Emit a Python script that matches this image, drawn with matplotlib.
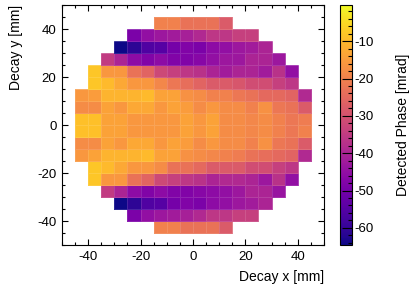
import numpy as np
import matplotlib
matplotlib.use("Agg")
import matplotlib.pyplot as plt
from matplotlib.ticker import MultipleLocator

plt.rcParams['font.family'] = ['Liberation Sans', 'DejaVu Sans']
plt.rcParams['axes.unicode_minus'] = False

# cell edges of the detector grid [mm]
x_edges = np.arange(-45, 46, 5)
y_edges = np.arange(-45, 46, 5)

n = np.nan
# detected phase [mrad], rows from y=42.5 (top) to y=-42.5 (bottom), cols x=-42.5..42.5
phase_rows = [
    [n, n, n, n, n, n, -20, -20, -23, -23, -23, -28, n, n, n, n, n, n],
    [n, n, n, n, -49, -45, -43, -42, -41, -39, -36, -36, -34, -34, n, n, n, n],
    [n, n, n, -65, -61, -56, -55, -50, -48, -49, -46, -45, -43, -42, -40, n, n, n],
    [n, n, -35, -40, -46, -48, -46, -48, -48, -47, -45, -43, -43, -40, -40, -43, n, n],
    [n, -8, -16, -16, -23, -26, -32, -34, -36, -37, -40, -42, -40, -40, -42, -37, -45, n],
    [n, -8, -10, -13, -16, -16, -19, -22, -24, -26, -28, -28, -29, -31, -31, -34, -36, n],
    [-16, -15, -11, -11, -11, -10, -14, -14, -17, -18, -20, -20, -22, -23, -25, -25, -26, -39],
    [-18, -18, -14, -16, -13, -13, -16, -14, -15, -18, -16, -18, -18, -20, -17, -22, -23, -28],
    [-9, -9, -14, -14, -16, -16, -16, -16, -14, -16, -14, -18, -18, -19, -18, -20, -22, -21],
    [-9, -9, -14, -14, -16, -16, -16, -16, -14, -16, -14, -18, -18, -19, -18, -20, -22, -20],
    [-18, -18, -14, -16, -13, -13, -16, -14, -15, -18, -16, -18, -18, -20, -17, -22, -23, -28],
    [-16, -14, -11, -11, -11, -10, -14, -14, -17, -18, -19, -20, -21, -23, -24, -25, -26, -39],
    [n, -8, -10, -13, -16, -16, -18, -23, -23, -25, -28, -28, -28, -31, -31, -34, -36, n],
    [n, -8, -16, -16, -23, -26, -32, -34, -36, -37, -40, -39, -39, -40, -43, -37, -45, n],
    [n, n, -35, -40, -46, -48, -46, -48, -48, -47, -46, -45, -43, -40, -40, -44, n, n],
    [n, n, n, -65, -61, -56, -55, -50, -48, -49, -46, -45, -43, -42, -40, n, n, n],
    [n, n, n, n, -49, -45, -43, -42, -41, -39, -36, -36, -34, -34, n, n, n, n],
    [n, n, n, n, n, n, -20, -20, -23, -23, -23, -28, n, n, n, n, n, n],
]
phase = np.ma.masked_invalid(np.array(phase_rows, dtype=float)[::-1])

fig = plt.figure(figsize=(4.15, 2.87), dpi=100)
ax = fig.add_axes([0.1494, 0.1463, 0.6313, 0.8362])
cax = fig.add_axes([0.8193, 0.1463, 0.0289, 0.8362])

mesh = ax.pcolormesh(x_edges, y_edges, phase, cmap='plasma', vmin=-64.6, vmax=-0.3,
                     edgecolors=(1, 1, 1, 0.12), linewidth=0.4)
ax.set_xlim(-50, 50)
ax.set_ylim(-50, 50)
ax.xaxis.set_major_locator(MultipleLocator(20))
ax.xaxis.set_minor_locator(MultipleLocator(5))
ax.yaxis.set_major_locator(MultipleLocator(20))
ax.yaxis.set_minor_locator(MultipleLocator(5))
ax.tick_params(which='both', direction='in', top=True, right=True, labelsize=9.5, pad=4)
ax.tick_params(which='major', length=4.5, width=0.8)
ax.tick_params(which='minor', length=2.3, width=0.8)
ax.set_xlabel("Decay x [mm]", loc='right', fontsize=10, labelpad=5)
ax.set_ylabel("Decay y [mm]", loc='top', fontsize=10, labelpad=10)

cb = fig.colorbar(mesh, cax=cax)
cb.outline.set_linewidth(0.8)
cb.ax.yaxis.set_major_locator(MultipleLocator(10))
cb.ax.yaxis.set_minor_locator(MultipleLocator(2))
cb.ax.tick_params(which='both', direction='in', right=True, left=False, labelsize=9.5, pad=1.5)
cb.ax.tick_params(which='major', length=7, width=0.8)
cb.ax.tick_params(which='minor', length=3, width=0.8)
cb.set_label("Detected Phase [mrad]", fontsize=10, labelpad=16)

fig.savefig("out.png", dpi=100)
